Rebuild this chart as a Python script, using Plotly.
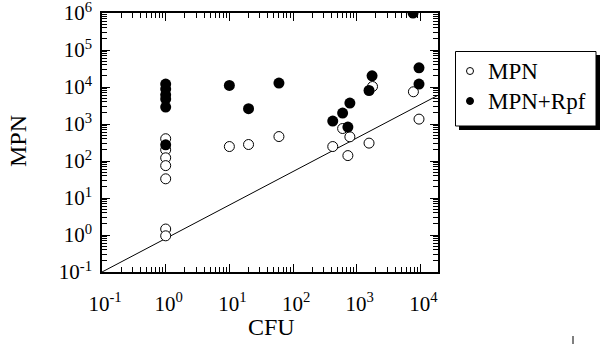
import plotly.graph_objects as go

# ---- data ----
mpn_cfu = [1, 1, 1, 1, 1, 1, 1, 10, 20, 60, 600, 780, 420, 726, 1560, 1770, 7760, 9500]
mpn_val = [400, 200, 122, 75, 33, 1.45, 0.95, 246, 279, 458, 755, 450, 246, 140, 304, 10300, 7430, 1355]

rpf_cfu = [1, 1, 1, 1, 1, 1, 10, 20, 60, 420, 600, 780, 726, 1560, 1740, 9500, 9500, 7660]
rpf_val = [12000, 8800, 6150, 4710, 2860, 273, 11000, 2600, 12800, 1200, 1970, 3670, 824, 8050, 20100, 33100, 12000, 1000000]

line_x = [0.1, 18900]
line_y = [0.1, 5970]

series_names = ["MPN", "MPN+Rpf"]

tick_vals = [0.1, 1, 10, 100, 1000, 10000, 100000, 1000000]
tick_text = ["10<sup>-1</sup>", "10<sup>0</sup>", "10<sup>1</sup>", "10<sup>2</sup>",
             "10<sup>3</sup>", "10<sup>4</sup>", "10<sup>5</sup>", "10<sup>6</sup>"]
minor_vals = [m * d for d in tick_vals for m in range(2, 10)]

FONT = "Liberation Serif"

# pixel geometry helpers (figure 600x350)
L, R, T, B = 102, 0, 13, 78
PW, PH = 600 - L - R, 350 - T - B
def pxx(x):
    return (x - L) / PW
def pxy(y):
    return (350 - B - y) / PH

fig = go.Figure()
fig.add_trace(go.Scatter(x=line_x, y=line_y, mode="lines",
                         line=dict(color="black", width=1), showlegend=False, hoverinfo="skip"))
fig.add_trace(go.Scatter(x=mpn_cfu, y=mpn_val, mode="markers", showlegend=False, name=series_names[0],
                         marker=dict(symbol="circle", size=10, color="white",
                                     line=dict(color="black", width=1))))
fig.add_trace(go.Scatter(x=rpf_cfu, y=rpf_val, mode="markers", showlegend=False, name=series_names[1],
                         marker=dict(symbol="circle", size=11, color="black",
                                     line=dict(color="black", width=0))))

# legend drawn in its own small subplot (box units = pixels inside the legend area)
fig.add_trace(go.Scatter(x=[15, 15], y=[20, 50], mode="markers", xaxis="x3", yaxis="y3",
                         showlegend=False, hoverinfo="skip",
                         marker=dict(symbol="circle", size=7, color=["white", "black"],
                                     line=dict(color="black", width=1))))

axis_common = dict(
    type="log",
    showgrid=False, zeroline=False,
    showline=True, linecolor="black", linewidth=1.5, mirror="allticks",
    ticks="inside", ticklen=8, tickwidth=1, tickcolor="black",
    tickmode="array", tickvals=tick_vals, ticktext=tick_text,
    tickfont=dict(family=FONT, size=21, color="black"),
    ticklabeloverflow="allow",
    minor=dict(ticks="inside", ticklen=5, tickwidth=1, tickcolor="black", showgrid=False,
               tickmode="array", tickvals=minor_vals),
)

fig.update_layout(
    xaxis=dict(**axis_common, range=[-1, 4.276], domain=[0, pxx(438)], anchor="y",
               ticklabelstandoff=12, ticklabelshift=3),
    yaxis=dict(**axis_common, range=[-1, 6], domain=[0, 1], anchor="x",
               ticklabelshift=0, ticklabelstandoff=4),
    xaxis3=dict(domain=[pxx(455), pxx(600)], range=[0, 145], visible=False, anchor="y3",
                fixedrange=True),
    yaxis3=dict(domain=[pxy(131), pxy(51)], range=[80, 0], visible=False, anchor="x3",
                fixedrange=True),
)

annotations = [
    dict(text="CFU", xref="paper", yref="paper", x=pxx(271), y=pxy(327),
         xanchor="center", yanchor="middle",
         showarrow=False, font=dict(family=FONT, size=24, color="black")),
    dict(text="MPN", xref="paper", yref="paper", x=pxx(18), y=pxy(141), textangle=-90,
         xanchor="center", yanchor="middle",
         showarrow=False, font=dict(family=FONT, size=24, color="black")),
]
for i, name in enumerate(series_names):
    annotations.append(dict(text=name, xref="x3", yref="y3", x=31, y=20 + 30 * i,
                            xanchor="left", yanchor="middle", showarrow=False,
                            font=dict(family=FONT, size=23, color="black")))

fig.update_layout(
    width=600, height=350,
    margin=dict(l=L, r=R, t=T, b=B, autoexpand=False),
    paper_bgcolor="white", plot_bgcolor="white",
    font=dict(family=FONT, color="black"),
    showlegend=False,
    annotations=annotations,
    shapes=[
        dict(type="rect", xref="x3", yref="y3", layer="below",
             x0=4, x1=145, y0=4, y1=79, fillcolor="black", line=dict(width=0)),
        dict(type="rect", xref="x3", yref="y3", layer="below",
             x0=0.5, x1=141, y0=0.5, y1=75, fillcolor="white", line=dict(color="black", width=1)),
        dict(type="line", xref="paper", yref="paper",
             x0=pxx(573), x1=pxx(573), y0=pxy(336), y1=pxy(344),
             line=dict(color="black", width=1)),
    ],
)

fig.write_html("out.html", config={"displayModeBar": False},
               post_script="document.body.style.margin='0';document.body.style.padding='0';")
